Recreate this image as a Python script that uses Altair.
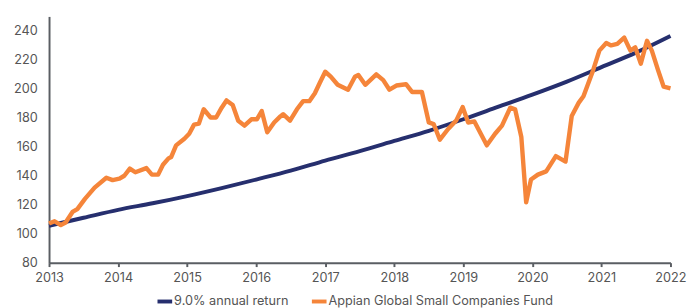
import altair as alt
import pandas as pd

BENCH = "9.0% annual return"
FUND = "Appian Global Small Companies Fund"

bench_year = [2013, 2013.5, 2014, 2014.5, 2015, 2015.5, 2016, 2016.5, 2017, 2017.5,
              2018, 2018.5, 2019, 2019.5, 2020, 2020.5, 2021, 2021.5, 2022]
bench_value = [105.5, 111, 116.5, 121, 126, 131.5, 137.4, 143.5, 150.5, 157,
               164, 171, 179, 187.5, 196, 205, 215, 225, 236.5]

fund_year = [2013.00, 2013.08, 2013.17, 2013.24, 2013.34, 2013.41, 2013.52, 2013.66, 2013.83, 2013.92,
             2014.02, 2014.09, 2014.17, 2014.25, 2014.41, 2014.49, 2014.58, 2014.65, 2014.73, 2014.77,
             2014.84, 2014.96, 2015.03, 2015.10, 2015.17, 2015.24, 2015.34, 2015.42, 2015.50, 2015.57,
             2015.66, 2015.74, 2015.83, 2015.93, 2016.01, 2016.08, 2016.16, 2016.26, 2016.35, 2016.39,
             2016.49, 2016.59, 2016.68, 2016.77, 2016.85, 2016.92, 2017.00, 2017.08, 2017.18, 2017.33,
             2017.43, 2017.48, 2017.58, 2017.74, 2017.84, 2017.93, 2018.03, 2018.17, 2018.26, 2018.40,
             2018.50, 2018.57, 2018.66, 2018.78, 2018.90, 2018.99, 2019.07, 2019.16, 2019.34, 2019.46,
             2019.56, 2019.68, 2019.75, 2019.84, 2019.91, 2019.98, 2020.08, 2020.20, 2020.34, 2020.48,
             2020.57, 2020.67, 2020.74, 2020.88, 2020.97, 2021.07, 2021.14, 2021.23, 2021.33, 2021.42,
             2021.49, 2021.57, 2021.66, 2021.73, 2021.82, 2021.90, 2022.00]
fund_value = [107, 108.6, 105.9, 107.7, 115, 117, 124, 131.8, 138.6, 137,
              138, 140, 144.9, 142.4, 145.3, 140.8, 140.8, 147.6, 152, 153,
              161, 165.6, 169, 175.3, 176, 185.9, 180.2, 180.2, 187, 192,
              188.8, 178, 174.6, 179, 179, 184.7, 170, 176.8, 181, 182.5,
              178, 185.9, 191.5, 191.5, 197, 204, 211.8, 208.4, 202.8, 199.4,
              208.4, 209.6, 202.8, 210, 206, 199.4, 202.3, 203.2, 197.8, 197.8,
              176.8, 175.7, 164.9, 172.3, 178.4, 187.4, 176.8, 177.5, 161, 169,
              174.6, 187, 185.9, 166.7, 121.7, 137.4, 140.8, 143, 153.6, 149.8,
              181.3, 190.3, 194.9, 212.9, 226.4, 231.6, 230, 231, 235.4, 226.4,
              228.6, 217.4, 233.2, 226.4, 212.9, 201.6, 200.4]

year_ticks = list(range(2013, 2023))
value_ticks = [80, 100, 120, 140, 160, 180, 200, 220, 240]

NAVY = "#262F6E"
ORANGE = "#F5853A"
GREY = "#5A5E63"
FONT = "Inter"

bench_df = pd.DataFrame({"year": bench_year, "value": bench_value, "series": BENCH})
fund_df = pd.DataFrame({"year": fund_year, "value": fund_value, "series": FUND})

x_enc = alt.X("year:Q",
              scale=alt.Scale(domain=[2013, 2022], nice=False, zero=False),
              axis=alt.Axis(values=year_ticks, format="d", title=None, grid=False,
                            tickSize=4, tickColor=GREY, tickWidth=2, domainColor=GREY,
                            domainWidth=2, labelPadding=5, labelFontSize=13,
                            labelColor="#555555", labelFont=FONT, labelFlush=False))
y_enc = alt.Y("value:Q",
              scale=alt.Scale(domain=[80, 250], nice=False, zero=False),
              axis=alt.Axis(values=value_ticks, title=None, grid=False, ticks=False,
                            domainColor=GREY, domainWidth=2, labelPadding=12,
                            labelFontSize=13, labelColor="#555555", labelFont=FONT))
color_enc = alt.Color("series:N",
                      scale=alt.Scale(domain=[BENCH, FUND], range=[NAVY, ORANGE]),
                      legend=alt.Legend(title=None, orient="none", direction="horizontal",
                                        legendX=109, legendY=282,
                                        symbolType="stroke", symbolStrokeWidth=4,
                                        symbolSize=225, labelOffset=0, labelLimit=0,
                                        columnPadding=15, labelFontSize=13,
                                        labelColor="#555555", labelFont=FONT))

bench = alt.Chart(bench_df).mark_line(strokeWidth=4, interpolate="monotone").encode(
    x=x_enc, y=y_enc, color=color_enc)
fund = alt.Chart(fund_df).mark_line(strokeWidth=4.5, strokeJoin="round").encode(
    x=x_enc, y=y_enc, color=color_enc)

chart = (bench + fund).properties(width=636, height=252).configure_view(stroke=None)

chart.save("out.html", embed_options={"renderer": "svg", "actions": False})
